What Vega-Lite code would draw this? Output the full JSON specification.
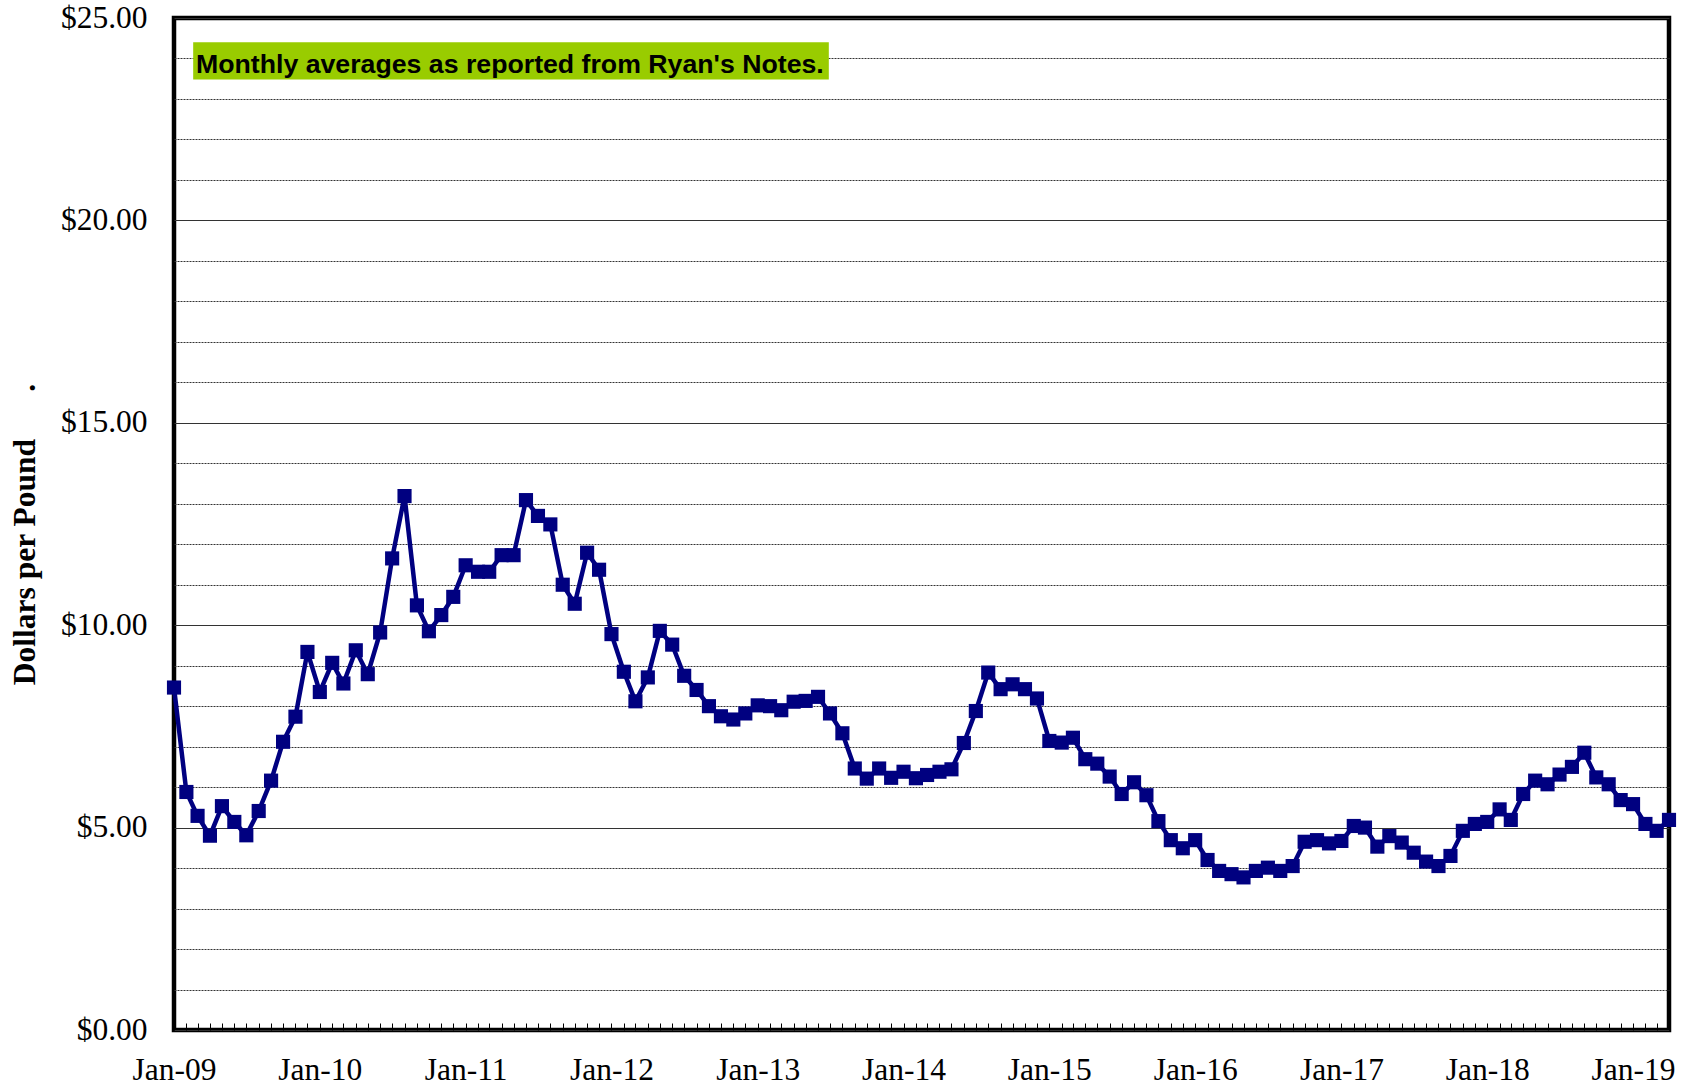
{
  "$schema": "https://vega.github.io/schema/vega-lite/v6.json",
  "width": 1495,
  "height": 1012,
  "autosize": {"type": "none"},
  "padding": {"left": 174, "top": 18, "right": 16, "bottom": 56},
  "background": "white",
  "config": {"view": {"stroke": "black", "strokeWidth": 4.5}},
  "layer": [
    {
      "data": {"name": "prices", "values": [
        {"date": "2009-01-01", "price": 8.46}, {"date": "2009-02-01", "price": 5.88}, {"date": "2009-03-01", "price": 5.29}, {"date": "2009-04-01", "price": 4.80},
        {"date": "2009-05-01", "price": 5.53}, {"date": "2009-06-01", "price": 5.14}, {"date": "2009-07-01", "price": 4.81}, {"date": "2009-08-01", "price": 5.41},
        {"date": "2009-09-01", "price": 6.16}, {"date": "2009-10-01", "price": 7.12}, {"date": "2009-11-01", "price": 7.74}, {"date": "2009-12-01", "price": 9.34},
        {"date": "2010-01-01", "price": 8.35}, {"date": "2010-02-01", "price": 9.07}, {"date": "2010-03-01", "price": 8.56}, {"date": "2010-04-01", "price": 9.38},
        {"date": "2010-05-01", "price": 8.79}, {"date": "2010-06-01", "price": 9.82}, {"date": "2010-07-01", "price": 11.65}, {"date": "2010-08-01", "price": 13.19},
        {"date": "2010-09-01", "price": 10.49}, {"date": "2010-10-01", "price": 9.85}, {"date": "2010-11-01", "price": 10.25}, {"date": "2010-12-01", "price": 10.70},
        {"date": "2011-01-01", "price": 11.48}, {"date": "2011-02-01", "price": 11.32}, {"date": "2011-03-01", "price": 11.32}, {"date": "2011-04-01", "price": 11.73},
        {"date": "2011-05-01", "price": 11.73}, {"date": "2011-06-01", "price": 13.09}, {"date": "2011-07-01", "price": 12.70}, {"date": "2011-08-01", "price": 12.49},
        {"date": "2011-09-01", "price": 11.00}, {"date": "2011-10-01", "price": 10.53}, {"date": "2011-11-01", "price": 11.79}, {"date": "2011-12-01", "price": 11.37},
        {"date": "2012-01-01", "price": 9.78}, {"date": "2012-02-01", "price": 8.85}, {"date": "2012-03-01", "price": 8.12}, {"date": "2012-04-01", "price": 8.71},
        {"date": "2012-05-01", "price": 9.86}, {"date": "2012-06-01", "price": 9.52}, {"date": "2012-07-01", "price": 8.75}, {"date": "2012-08-01", "price": 8.40},
        {"date": "2012-09-01", "price": 8.00}, {"date": "2012-10-01", "price": 7.75}, {"date": "2012-11-01", "price": 7.67}, {"date": "2012-12-01", "price": 7.82},
        {"date": "2013-01-01", "price": 8.02}, {"date": "2013-02-01", "price": 8.00}, {"date": "2013-03-01", "price": 7.90}, {"date": "2013-04-01", "price": 8.11},
        {"date": "2013-05-01", "price": 8.13}, {"date": "2013-06-01", "price": 8.23}, {"date": "2013-07-01", "price": 7.82}, {"date": "2013-08-01", "price": 7.33},
        {"date": "2013-09-01", "price": 6.46}, {"date": "2013-10-01", "price": 6.21}, {"date": "2013-11-01", "price": 6.46}, {"date": "2013-12-01", "price": 6.23},
        {"date": "2014-01-01", "price": 6.38}, {"date": "2014-02-01", "price": 6.22}, {"date": "2014-03-01", "price": 6.30}, {"date": "2014-04-01", "price": 6.38},
        {"date": "2014-05-01", "price": 6.44}, {"date": "2014-06-01", "price": 7.09}, {"date": "2014-07-01", "price": 7.88}, {"date": "2014-08-01", "price": 8.83},
        {"date": "2014-09-01", "price": 8.42}, {"date": "2014-10-01", "price": 8.54}, {"date": "2014-11-01", "price": 8.42}, {"date": "2014-12-01", "price": 8.19},
        {"date": "2015-01-01", "price": 7.14}, {"date": "2015-02-01", "price": 7.10}, {"date": "2015-03-01", "price": 7.22}, {"date": "2015-04-01", "price": 6.69},
        {"date": "2015-05-01", "price": 6.58}, {"date": "2015-06-01", "price": 6.26}, {"date": "2015-07-01", "price": 5.83}, {"date": "2015-08-01", "price": 6.12},
        {"date": "2015-09-01", "price": 5.80}, {"date": "2015-10-01", "price": 5.16}, {"date": "2015-11-01", "price": 4.69}, {"date": "2015-12-01", "price": 4.49},
        {"date": "2016-01-01", "price": 4.69}, {"date": "2016-02-01", "price": 4.20}, {"date": "2016-03-01", "price": 3.93}, {"date": "2016-04-01", "price": 3.85},
        {"date": "2016-05-01", "price": 3.77}, {"date": "2016-06-01", "price": 3.93}, {"date": "2016-07-01", "price": 4.01}, {"date": "2016-08-01", "price": 3.93},
        {"date": "2016-09-01", "price": 4.05}, {"date": "2016-10-01", "price": 4.65}, {"date": "2016-11-01", "price": 4.69}, {"date": "2016-12-01", "price": 4.61},
        {"date": "2017-01-01", "price": 4.67}, {"date": "2017-02-01", "price": 5.04}, {"date": "2017-03-01", "price": 5.00}, {"date": "2017-04-01", "price": 4.53},
        {"date": "2017-05-01", "price": 4.79}, {"date": "2017-06-01", "price": 4.63}, {"date": "2017-07-01", "price": 4.38}, {"date": "2017-08-01", "price": 4.16},
        {"date": "2017-09-01", "price": 4.05}, {"date": "2017-10-01", "price": 4.30}, {"date": "2017-11-01", "price": 4.92}, {"date": "2017-12-01", "price": 5.09},
        {"date": "2018-01-01", "price": 5.14}, {"date": "2018-02-01", "price": 5.45}, {"date": "2018-03-01", "price": 5.19}, {"date": "2018-04-01", "price": 5.83},
        {"date": "2018-05-01", "price": 6.16}, {"date": "2018-06-01", "price": 6.07}, {"date": "2018-07-01", "price": 6.31}, {"date": "2018-08-01", "price": 6.50},
        {"date": "2018-09-01", "price": 6.85}, {"date": "2018-10-01", "price": 6.24}, {"date": "2018-11-01", "price": 6.07}, {"date": "2018-12-01", "price": 5.68},
        {"date": "2019-01-01", "price": 5.58}, {"date": "2019-02-01", "price": 5.09}, {"date": "2019-03-01", "price": 4.92}, {"date": "2019-04-01", "price": 5.19}
      ]},
      "encoding": {
        "x": {
          "field": "date", "type": "temporal",
          "scale": {"type": "utc", "domain": [{"year": 2009, "month": 1, "date": 1, "utc": true}, {"year": 2019, "month": 4, "date": 1, "utc": true}], "nice": false},
          "axis": {
            "title": null, "format": "%b-%y",
            "labelExpr": "utcmonth(datum.value) === 0 ? datum.label : ''",
            "tickCount": {"interval": "month", "step": 1},
            "grid": false, "domain": false, "ticks": true, "tickSize": -7, "tickColor": "black", "tickWidth": 1,
            "labelFont": "Liberation Serif", "labelFontSize": 31.5, "labelColor": "black", "labelPadding": 31,
            "labelOverlap": false, "labelFlush": false, "labelBound": false
          }
        },
        "y": {
          "field": "price", "type": "quantitative",
          "scale": {"domain": [0, 25], "nice": false},
          "axis": {
            "title": "Dollars per Pound\u00a0\u00a0\u00a0\u00a0\u00a0\u00a0.",
            "values": [0,1,2,3,4,5,6,7,8,9,10,11,12,13,14,15,16,17,18,19,20,21,22,23,24,25],
            "labelExpr": "datum.value % 5 === 0 ? '$' + format(datum.value, '.2f') : ''",
            "grid": true, "gridColor": "#333333", "gridWidth": 1,
            "gridDash": {"condition": {"test": "datum.value % 5 === 0", "value": []}, "value": [2, 1]},
            "ticks": false, "domain": false,
            "labelFont": "Liberation Serif", "labelFontSize": 31.5, "labelColor": "black", "labelPadding": 27,
            "labelBaseline": "middle", "labelOverlap": false, "labelFlush": false,
            "titleFont": "Liberation Serif", "titleFontSize": 31.5, "titleFontWeight": "bold", "titleColor": "black",
            "titleAngle": 270, "titleX": -140, "titleY": 516, "titleAlign": "center", "titleBaseline": "alphabetic"
          }
        }
      },
      "layer": [
        {"mark": {"type": "line", "color": "#000080", "strokeWidth": 4.5}},
        {"mark": {"type": "square", "color": "#000080", "size": 200, "opacity": 1}}
      ]
    },
    {
      "data": {"values": [{"start": "2009-02-18", "end": "2013-06-28", "top": 24.40, "bottom": 23.48}]},
      "mark": {"type": "rect", "color": "#99CC00"},
      "encoding": {
        "x": {"field": "start", "type": "temporal"},
        "x2": {"field": "end"},
        "y": {"field": "top", "type": "quantitative"},
        "y2": {"field": "bottom"}
      }
    },
    {
      "data": {"values": [{"when": "2009-02-25", "level": 23.64, "note": "Monthly averages as reported from Ryan's Notes."}]},
      "mark": {"type": "text", "align": "left", "baseline": "alphabetic", "font": "Liberation Sans", "fontWeight": "bold", "fontSize": 26.7, "color": "black"},
      "encoding": {
        "x": {"field": "when", "type": "temporal"},
        "y": {"field": "level", "type": "quantitative"},
        "text": {"field": "note"}
      }
    }
  ]
}
